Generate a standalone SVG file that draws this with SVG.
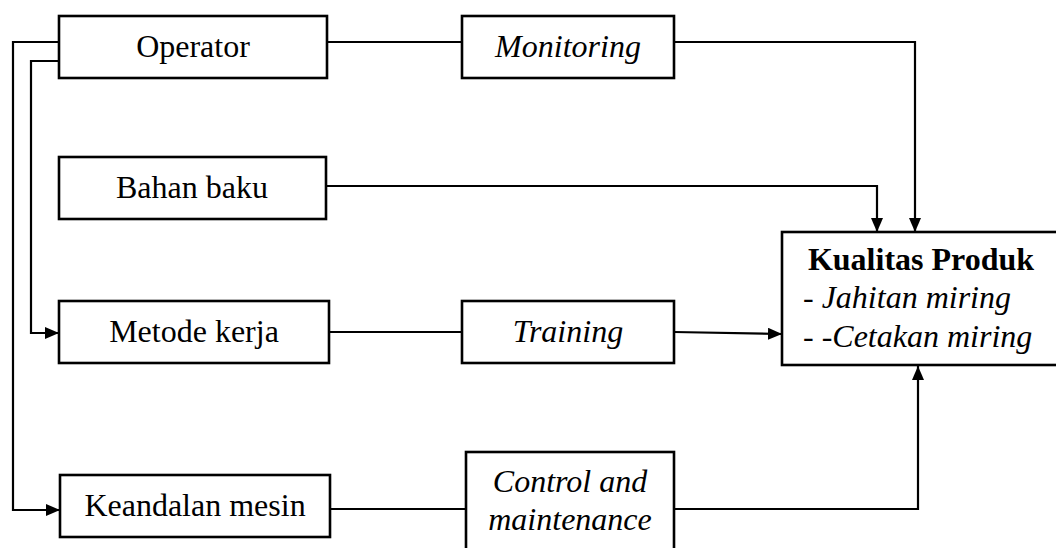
<svg xmlns="http://www.w3.org/2000/svg" width="1056" height="548" viewBox="0 0 1056 548">
<style>
.box{fill:#fff;stroke:#000;stroke-width:2.6}
.ln{fill:none;stroke:#000;stroke-width:2.2}
.t{font-family:"Liberation Serif","Times New Roman",serif;font-size:32px;fill:#000;text-anchor:middle}
.i{font-style:italic}
.b{font-weight:bold}
</style>
<defs>
<marker id="ah" markerWidth="14" markerHeight="12" refX="14" refY="6" orient="auto" markerUnits="userSpaceOnUse">
<path d="M0,0 L14,6 L0,12 Z" fill="#000"/>
</marker>
</defs>
<g id="connectors">
<path class="ln" d="M59,42 H13 V510 H60" marker-end="url(#ah)"/>
<path class="ln" d="M59,61 H31 V333 H59" marker-end="url(#ah)"/>
<path class="ln" d="M327,42 H462"/>
<path class="ln" d="M674,42 H915 V232" marker-end="url(#ah)"/>
<path class="ln" d="M326,186 H877 V232" marker-end="url(#ah)"/>
<path class="ln" d="M329,332 H462"/>
<path class="ln" d="M674,332 L782,334" marker-end="url(#ah)"/>
<path class="ln" d="M330,509 H466"/>
<path class="ln" d="M674,509 H918 V366" marker-end="url(#ah)"/>
</g>
<g id="operator"><rect class="box" x="59" y="16" width="268" height="62"/><text class="t" x="193" y="57">Operator</text></g>
<g id="monitoring"><rect class="box" x="462" y="16" width="212" height="62"/><text class="t i" x="568" y="57">Monitoring</text></g>
<g id="bahan-baku"><rect class="box" x="59" y="157" width="267" height="62"/><text class="t" x="192" y="198">Bahan baku</text></g>
<g id="metode-kerja"><rect class="box" x="59" y="301" width="270" height="62"/><text class="t" x="194" y="342">Metode kerja</text></g>
<g id="training"><rect class="box" x="462" y="301" width="212" height="62"/><text class="t i" x="568" y="342">Training</text></g>
<g id="keandalan-mesin"><rect class="box" x="60" y="475" width="270" height="62"/><text class="t" x="195" y="516">Keandalan mesin</text></g>
<g id="control-maintenance"><rect class="box" x="466" y="452" width="208" height="110"/><text class="t i" x="570" y="492">Control and</text><text class="t i" x="570" y="530">maintenance</text></g>
<g id="kualitas-produk"><rect class="box" x="782" y="232" width="290" height="133"/>
<text class="t b" x="921" y="270">Kualitas Produk</text>
<text class="t" x="803" y="308" style="text-anchor:start">- <tspan class="i">Jahitan miring</tspan></text>
<text class="t" x="803" y="347" style="text-anchor:start">- <tspan class="i">-Cetakan miring</tspan></text>
</g>
</svg>
